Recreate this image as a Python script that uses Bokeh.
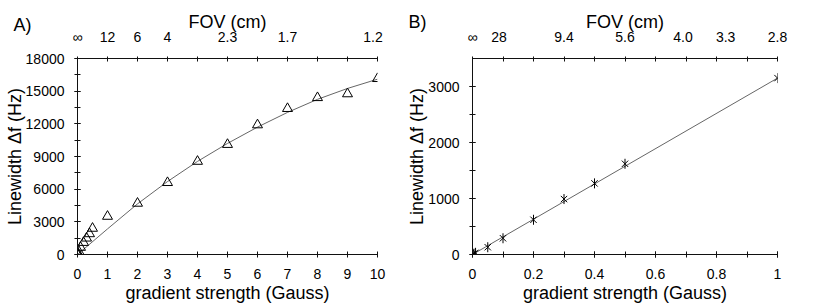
import math
from bokeh.plotting import figure
from bokeh.models import Range1d, LinearAxis, FixedTicker, Label
from bokeh.layouts import row
from bokeh.embed import file_html
from bokeh.resources import INLINE

FONT = "Liberation Sans"

# ---------------- Panel A data ----------------
a_grad = [0, 0.01, 0.02, 0.05, 0.1, 0.2, 0.3, 0.4, 0.5, 1, 2, 3, 4, 5, 6, 7, 8, 9, 10]
a_width = [0, 50, 100, 250, 650, 1100, 1500, 1900, 2400, 3500, 4700, 6600, 8550,
           10100, 11900, 13400, 14400, 14750, 16150]
a_fit_grad = [0, 1, 2, 3, 4, 5, 6, 7, 8, 9, 10]
a_fit_width = [0, 2350, 4650, 6700, 8550, 10200, 11700, 13050, 14250, 15250, 16100]
a_x_ticks = [0, 1, 2, 3, 4, 5, 6, 7, 8, 9, 10]
a_y_ticks = [0, 3000, 6000, 9000, 12000, 15000, 18000]
a_y_minor = [0, 1500, 3000, 4500, 6000, 7500, 9000, 10500, 12000, 13500, 15000, 16500, 18000]
a_fov_pos = [0, 1, 2, 3, 5, 7, 9.85]
a_fov_labels = ["∞", "12", "6", "4", "2.3", "1.7", "1.2"]

# ---------------- Panel B data ----------------
b_grad = [0, 0.002, 0.005, 0.01, 0.05, 0.1, 0.2, 0.3, 0.4, 0.5, 1.0]
b_width = [0, 5, 15, 30, 130, 290, 620, 990, 1270, 1620, 3150]
b_fit_grad = [0, 1.0]
b_fit_width = [0, 3150]
b_x_ticks = [0, 0.2, 0.4, 0.6, 0.8, 1.0]
b_x_labels = ["0", "0.2", "0.4", "0.6", "0.8", "1"]
b_x_minor = [0, 0.1, 0.2, 0.3, 0.4, 0.5, 0.6, 0.7, 0.8, 0.9, 1.0]
b_y_ticks = [0, 1000, 2000, 3000]
b_y_minor = [0, 500, 1000, 1500, 2000, 2500, 3000]
b_fov_pos = [0, 0.087, 0.3, 0.5, 0.69, 0.83, 1.0]
b_fov_labels = ["∞", "28", "9.4", "5.6", "4.0", "3.3", "2.8"]

AX = "#111111"
FIT = "#666666"


def style_axis(ax, title, standoff=8, title_standoff=2):
    ax.axis_line_color = AX
    ax.major_tick_line_color = AX
    ax.minor_tick_line_color = AX
    ax.major_label_text_font = FONT
    ax.major_label_text_font_size = "14px"
    ax.major_label_text_color = "#000000"
    ax.major_label_standoff = standoff
    ax.major_tick_in = 3
    ax.major_tick_out = 3
    ax.minor_tick_in = 3
    ax.minor_tick_out = 3
    ax.axis_label = title
    ax.axis_label_text_font = FONT
    ax.axis_label_text_font_size = "18px"
    ax.axis_label_text_font_style = "normal"
    ax.axis_label_text_color = "#000000"
    ax.axis_label_standoff = title_standoff


def base_fig(w, h, xr, yr, bl, br, bt, bb):
    p = figure(width=w, height=h, x_range=Range1d(*xr), y_range=Range1d(*yr),
               output_backend="svg", toolbar_location=None,
               x_axis_location=None, y_axis_location=None,
               min_border_left=bl, min_border_right=br,
               min_border_top=bt, min_border_bottom=bb)
    p.xgrid.visible = False
    p.ygrid.visible = False
    p.outline_line_color = None
    p.background_fill_color = "white"
    p.border_fill_color = "white"
    return p


def add_axes(p, xt, xminor, xlabels, yt, yminor, fov_pos, fov_labels, fov_minor):
    left = LinearAxis(ticker=FixedTicker(ticks=yt, minor_ticks=yminor))
    style_axis(left, "Linewidth Δf (Hz)", standoff=10, title_standoff=-2)
    p.add_layout(left, "left")

    bottom = LinearAxis(ticker=FixedTicker(ticks=xt, minor_ticks=xminor))
    style_axis(bottom, "gradient strength (Gauss)", standoff=11, title_standoff=1)
    if xlabels is not None:
        bottom.major_label_overrides = {k: v for k, v in zip(xt, xlabels)}
    p.add_layout(bottom, "below")

    top = LinearAxis(ticker=FixedTicker(ticks=fov_pos, minor_ticks=fov_minor))
    style_axis(top, "FOV (cm)", standoff=12, title_standoff=-6)
    top.major_tick_in = 0
    top.major_tick_out = 0
    top.minor_tick_in = 3
    top.minor_tick_out = 2
    top.major_label_overrides = {k: v for k, v in zip(fov_pos, fov_labels)}
    p.add_layout(top, "above")


def panel_tag(p, text, x, y):
    # placed in the (otherwise empty) right border panel, positioned relative to it
    p.add_layout(Label(x=x, y=y, x_units="screen", y_units="screen", text=text,
                       text_font=FONT, text_font_size="18px", text_color="#000000",
                       text_baseline="middle", text_align="left"), "right")


# ================= Panel A =================
pa = base_fig(403, 307, (0, 10), (0, 18000), 77, 26, 56, 53)
add_axes(pa, a_x_ticks, [], None, a_y_ticks, a_y_minor, a_fov_pos, a_fov_labels, a_x_ticks)
pa.line(a_fit_grad, a_fit_width, line_color=FIT, line_width=1)
pa.scatter(a_grad, a_width, marker="triangle", size=10, fill_color=None,
           line_color="#000000", line_width=1)
panel_tag(pa, "A)", -364, 230)

# ================= Panel B =================
pb = base_fig(414, 307, (0, 1), (0, 3500), 69, 40, 58, 52)
add_axes(pb, b_x_ticks, b_x_minor, b_x_labels, b_y_ticks, b_y_minor, b_fov_pos, b_fov_labels, b_x_minor)
pb.line(b_fit_grad, b_fit_width, line_color=FIT, line_width=1)
pb.scatter(b_grad, b_width, marker="x", size=9, line_color="#000000", line_width=1)
pb.scatter(b_grad, b_width, marker="dash", size=10, angle=math.pi / 2,
           line_color="#000000", line_width=1)
panel_tag(pb, "B)", -369, 233)

layout = row(pa, pb)
open("out.html", "w").write(file_html(layout, INLINE))
